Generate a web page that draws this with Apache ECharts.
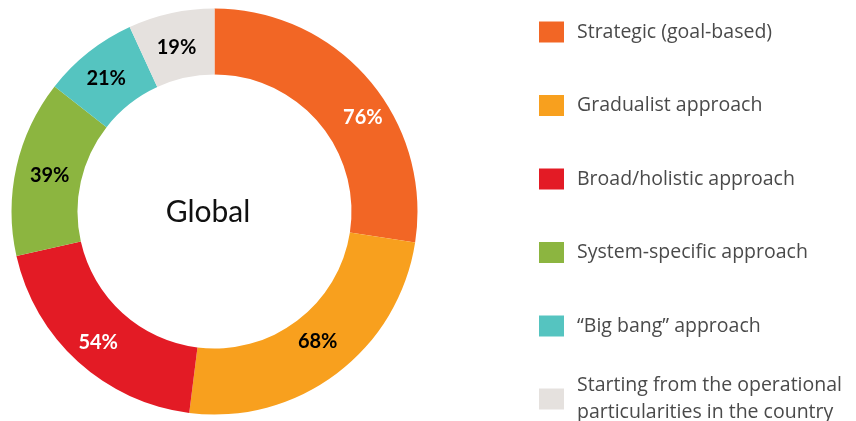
<!DOCTYPE html>
<html>
<head>
<meta charset="utf-8">
<script src="https://cdn.jsdelivr.net/npm/echarts@6/dist/echarts.min.js"></script>
<style>html,body{margin:0;padding:0;background:#fff}#c{width:856px;height:421px}</style>
</head>
<body>
<div id="c"></div>
<script>
const categories = ["Strategic (goal-based)", "Gradualist approach", "Broad/holistic approach", "System-specific approach", "\u201cBig bang\u201d approach", "Starting from the operational\nparticularities in the country"];
const values = [76, 68, 54, 39, 21, 19];
const colors = ["#F26625", "#F8A01E", "#E31B25", "#8CB540", "#55C4C0", "#E5E1DE"];
const labelColors = ["#ffffff", "#000000", "#ffffff", "#000000", "#000000", "#000000"];
const labelOffsets = [[17, 19], [-1, -8], [0, 3], [4, 2], [-1, 3], [-1, 5]];
const centerTitle = "Global";

const chart = echarts.init(document.getElementById('c'), null, {renderer: 'canvas'});
const data = categories.map((n, i) => ({
  name: n, value: values[i], itemStyle: {color: colors[i]},
  label: {color: labelColors[i], offset: labelOffsets[i]}
}));
const legendText = {color: '#4a4a4a', fontSize: 19.5, fontFamily: 'Open Sans', lineHeight: 22, padding: [0, 0, 0, 8]};
chart.setOption({
  animation: false,
  title: {
    text: centerTitle, left: 203, top: 192, textAlign: 'center',
    textStyle: {fontFamily: 'Lato', fontWeight: 'normal', fontSize: 30, color: '#111'}
  },
  legend: [{
    orient: 'vertical', left: 534, top: 16, itemWidth: 25, itemHeight: 21, itemGap: 51.5,
    icon: 'rect', data: categories.slice(0, 5), textStyle: legendText, selectedMode: false
  }, {
    orient: 'vertical', left: 534, top: 367, itemWidth: 25, itemHeight: 21,
    icon: 'rect', data: categories.slice(5), textStyle: Object.assign({}, legendText, {lineHeight: 27}), selectedMode: false
  }],
  series: [{
    type: 'pie', center: [214.5, 211.5], radius: [137, 203], startAngle: 90, clockwise: true,
    avoidLabelOverlap: false,
    label: {show: true, position: 'inside', formatter: '{c}%', fontFamily: 'Lato', fontWeight: 'bold', fontSize: 20},
    labelLine: {show: false},
    itemStyle: {borderWidth: 0},
    emphasis: {disabled: true},
    data: data
  }]
});
</script>
</body>
</html>
